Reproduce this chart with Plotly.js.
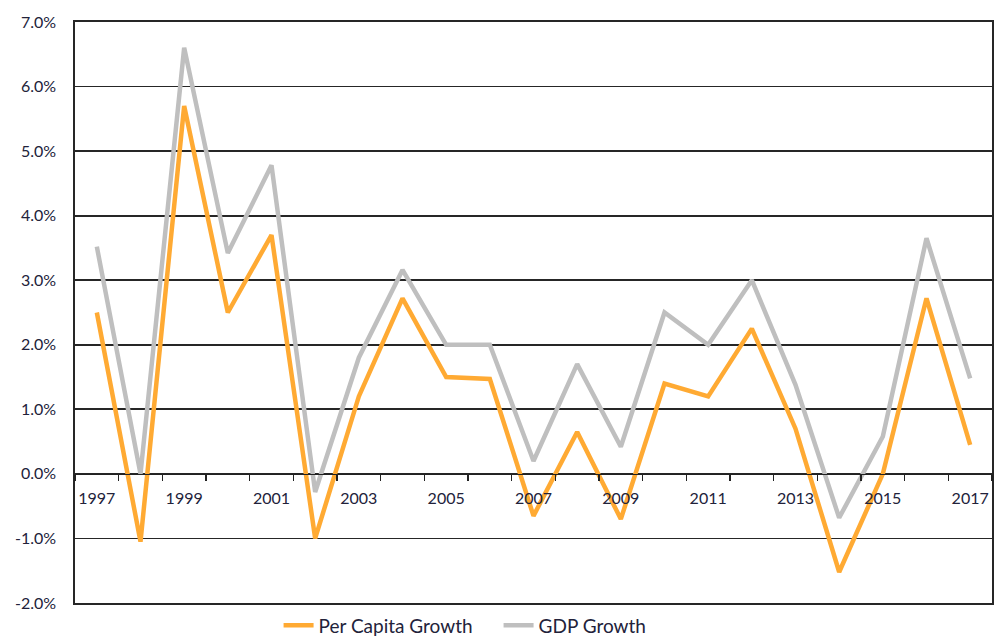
<!DOCTYPE html>
<html>
<head>
<meta charset="utf-8">
<script src="https://cdn.plot.ly/plotly-3.0.1.min.js"></script>
<style>html,body{margin:0;padding:0;background:#fff;}#chart{width:994px;height:642px;}</style>
</head>
<body>
<div id="chart"></div>
<script>
var years = [1997,1998,1999,2000,2001,2002,2003,2004,2005,2006,2007,2008,2009,2010,2011,2012,2013,2014,2015,2016,2017];
var perCapitaGrowth = [2.5,-1.05,5.7,2.5,3.7,-1.0,1.2,2.72,1.5,1.47,-0.65,0.65,-0.7,1.4,1.2,2.25,0.7,-1.52,0.0,2.72,0.45];
var gdpGrowth = [3.52,0.0,6.6,3.42,4.78,-0.28,1.8,3.16,2.0,2.0,0.2,1.7,0.42,2.5,2.0,3.0,1.38,-0.68,0.58,3.65,1.48];
var labelYears = [1997,1999,2001,2003,2005,2007,2009,2011,2013,2015,2017];
var yTicks = [-2,-1,0,1,2,3,4,5,6,7];

var txt = '#22223a';
var traces = [
  {x: years, y: gdpGrowth, name: 'GDP Growth', type: 'scatter', mode: 'lines',
   line: {color: '#BFBFBF', width: 4.5}},
  {x: years, y: perCapitaGrowth, name: 'Per Capita Growth', type: 'scatter', mode: 'lines',
   xaxis: 'x2', line: {color: '#FFAA33', width: 4.5}}
];
var layout = {
  width: 994, height: 642,
  margin: {l: 75, r: 2, t: 22, b: 39, autoexpand: false},
  paper_bgcolor: '#fff', plot_bgcolor: '#fff',
  font: {family: 'Lato, Carlito, "Open Sans", sans-serif', size: 16, color: txt},
  showlegend: true,
  legend: {orientation: 'h', x: 0.222, xanchor: 'left', y: -0.006, yanchor: 'top',
           traceorder: 'reversed', font: {size: 19, color: txt}, itemwidth: 30,
           entrywidth: 175, entrywidthmode: 'pixels'},
  xaxis: {
    range: [1996.5, 2017.5],
    anchor: 'free', position: (0 - (-2)) / 9,
    tickmode: 'array', tickvals: labelYears, ticktext: labelYears.map(String),
    ticks: '', showgrid: false, zeroline: false, ticklabelstandoff: 9,
    showline: true, linecolor: '#222', linewidth: 1.5,
    tickfont: {size: 16, color: txt},
    minor: {ticks: 'outside', tickmode: 'linear', tick0: 1996.5, dtick: 1, ticklen: 6, tickwidth: 1.5, tickcolor: '#222', showgrid: false}
  },
  xaxis2: {
    range: [1996.5, 2017.5], overlaying: 'x', anchor: 'y', side: 'bottom',
    showline: true, mirror: true, linecolor: '#262626', linewidth: 1.7,
    showgrid: false, zeroline: false, showticklabels: false, ticks: ''
  },
  yaxis: {
    range: [-2, 7],
    tickmode: 'array', tickvals: yTicks,
    ticktext: yTicks.map(function(v){ return (v < 0 ? '-' : '') + Math.abs(v).toFixed(1) + '%'; }),
    showgrid: true, gridcolor: '#262626', gridwidth: 1.7,
    zeroline: false,
    showline: true, mirror: true, linecolor: '#262626', linewidth: 1.7,
    ticks: '', ticklabelstandoff: 14,
    tickfont: {size: 16, color: txt}
  }
};
Plotly.newPlot('chart', traces, layout, {displayModeBar: false, staticPlot: true});
</script>
</body>
</html>
